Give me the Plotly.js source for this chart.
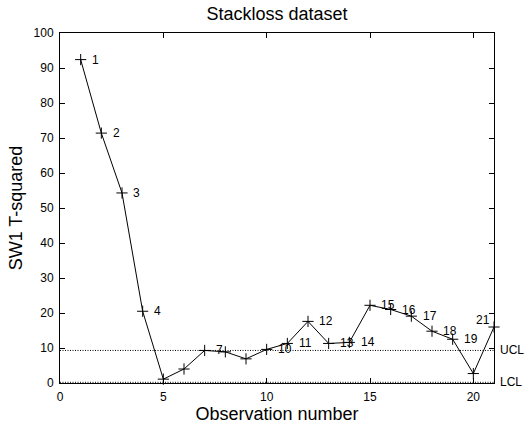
<!DOCTYPE html>
<html>
<head>
<meta charset="utf-8">
<script src="https://cdn.plot.ly/plotly-3.0.1.min.js"></script>
<style>
  html, body { margin: 0; padding: 0; background: #fff; }
  #chart { width: 532px; height: 426px; }
</style>
</head>
<body>
<div id="chart"></div>
<script>
// Stackloss observations and their SW1 T-squared statistic
const observations = [1, 2, 3, 4, 5, 6, 7, 8, 9, 10, 11, 12, 13, 14, 15, 16, 17, 18, 19, 20, 21];
const tSquared = [92.4, 71.4, 54.3, 20.5, 1.1, 4.0, 9.3, 8.9, 6.9, 9.6, 11.3, 17.6, 11.3, 11.6, 22.2, 21.0, 19.1, 14.8, 12.5, 2.7, 16.0];
// Observations that carry a number label
const labelled = [1, 2, 3, 4, 7, 10, 11, 12, 13, 14, 15, 16, 17, 18, 19, 21];
// Control limits
const ucl = 9.3;
const lcl = 0.2;
const limitNames = ["UCL", "LCL"];

const FONT = "Liberation Sans, Arial, Helvetica, sans-serif";
const xMax = observations[observations.length - 1];
const DOTS = "1px,1.5px";

const traces = [
  {
    x: [0, xMax], y: [ucl, ucl], mode: "lines",
    line: { color: "#000", width: 1, dash: DOTS }, hoverinfo: "skip"
  },
  {
    x: [0, xMax], y: [lcl, lcl], mode: "lines",
    line: { color: "#000", width: 1, dash: DOTS }, hoverinfo: "skip"
  },
  {
    x: observations, y: tSquared, mode: "lines+markers",
    line: { color: "#000", width: 1 },
    marker: { symbol: "cross-thin-open", size: 8, color: "#000", line: { color: "#000", width: 1 } },
    cliponaxis: false
  }
];

// Number labels sit just right of each point; the last one goes up-left
// so that it stays inside the frame.
const annotations = labelled.map(function (n) {
  const i = observations.indexOf(n);
  const last = n === xMax;
  return {
    x: last ? observations[i] - 0.1 : observations[i] + 0.45,
    y: last ? tSquared[i] + 2 : tSquared[i],
    xref: "x", yref: "y",
    text: String(n), showarrow: false,
    xanchor: last ? "right" : "left", yanchor: "middle",
    font: { family: FONT, size: 12, color: "#000" }
  };
});
[ucl, lcl].forEach(function (v, k) {
  annotations.push({
    x: 1.01, xref: "paper", y: v, yref: "y",
    text: limitNames[k], showarrow: false,
    xanchor: "left", yanchor: "middle",
    font: { family: FONT, size: 12, color: "#000" }
  });
});

const axisCommon = {
  showgrid: false, zeroline: false,
  showline: true, linecolor: "#000", linewidth: 1, mirror: "ticks",
  ticks: "inside", ticklen: 5, tickwidth: 1, tickcolor: "#000",
  tickfont: { family: FONT, size: 12, color: "#000" }
};

const layout = {
  width: 532, height: 426,
  margin: { l: 60, r: 38, t: 33, b: 43 },
  paper_bgcolor: "#fff", plot_bgcolor: "#fff",
  showlegend: false,
  font: { family: FONT, color: "#000" },
  title: {
    text: "Stackloss dataset",
    font: { family: FONT, size: 18, color: "#000" },
    x: 0.5, xref: "paper", y: 0.967, yref: "container", yanchor: "middle"
  },
  xaxis: Object.assign({}, axisCommon, {
    range: [0, xMax], tickvals: [0, 5, 10, 15, 20],
    ticklabelstandoff: 3,
    title: { text: "Observation number", font: { family: FONT, size: 18, color: "#000" }, standoff: 3 }
  }),
  yaxis: Object.assign({}, axisCommon, {
    range: [0, 100], tickvals: [0, 10, 20, 30, 40, 50, 60, 70, 80, 90, 100],
    ticklabelstandoff: 3,
    title: { text: "SW1 T-squared", font: { family: FONT, size: 18, color: "#000" }, standoff: 6 }
  }),
  annotations: annotations
};

Plotly.newPlot("chart", traces, layout, { displayModeBar: false, staticPlot: true });
</script>
</body>
</html>
